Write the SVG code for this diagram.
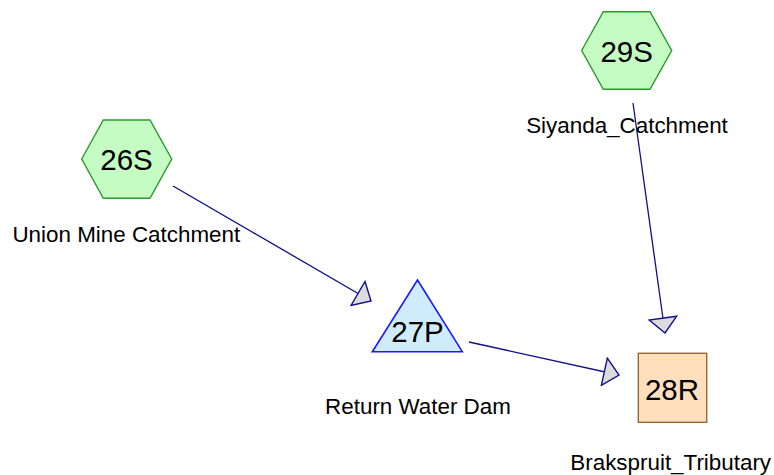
<svg xmlns="http://www.w3.org/2000/svg" width="774" height="475" viewBox="0 0 774 475">
<defs>
<style>
text{font-family:"Liberation Sans",Arial,sans-serif;fill:#000;text-anchor:middle}
.lbl{font-size:22.4px}
.id{font-size:29.5px}
.hex{fill:#c4fcc4;stroke:#2a9a2a;stroke-width:1.4}
.tri{fill:#d0ecfc;stroke:#1a1aff;stroke-width:1.6}
.sq{fill:#ffdfbe;stroke:#9a6633;stroke-width:1.4}
.edge{stroke:#10108a;stroke-width:1.3;fill:none;marker-end:url(#ah)}
</style>
<marker id="ah" markerUnits="userSpaceOnUse" markerWidth="20" markerHeight="30" viewBox="-1 -14 16 28" refX="14" refY="0" orient="auto">
<path d="M0,-13 L14,0 L0,13 Z" fill="#dcdcdc" stroke="#10108a" stroke-width="1.3" stroke-linejoin="miter"/>
</marker>
</defs>
<rect width="774" height="475" fill="#fff"/>
<g id="connectors">
<line class="edge" x1="173" y1="186" x2="371" y2="301"/>
<line class="edge" x1="633" y1="103" x2="665" y2="333"/>
<line class="edge" x1="469" y1="342" x2="619" y2="375"/>
</g>
<g id="n26S">
<polygon class="hex" points="81.7,159 103.3,120 150,120 171.7,159 150,198.3 103.3,198.3"/>
<text class="id" x="126.5" y="170">26S</text>
<text class="lbl" x="126.3" y="242">Union Mine Catchment</text>
</g>
<g id="n29S">
<polygon class="hex" points="581.7,50.5 603.3,11.7 650,11.7 671.7,50.5 650,89.3 603.3,89.3"/>
<text class="id" x="626.7" y="62">29S</text>
<text class="lbl" x="627" y="132.5">Siyanda_Catchment</text>
</g>
<g id="n27P">
<polygon class="tri" points="417.5,280 462.3,351.7 372.3,351.7"/>
<text class="id" x="417.5" y="341.7">27P</text>
<text class="lbl" x="418" y="414">Return Water Dam</text>
</g>
<g id="n28R">
<rect class="sq" x="638.3" y="353.3" width="68.4" height="69"/>
<text class="id" x="672" y="400">28R</text>
<text class="lbl" x="670.7" y="470">Brakspruit_Tributary</text>
</g>
</svg>
